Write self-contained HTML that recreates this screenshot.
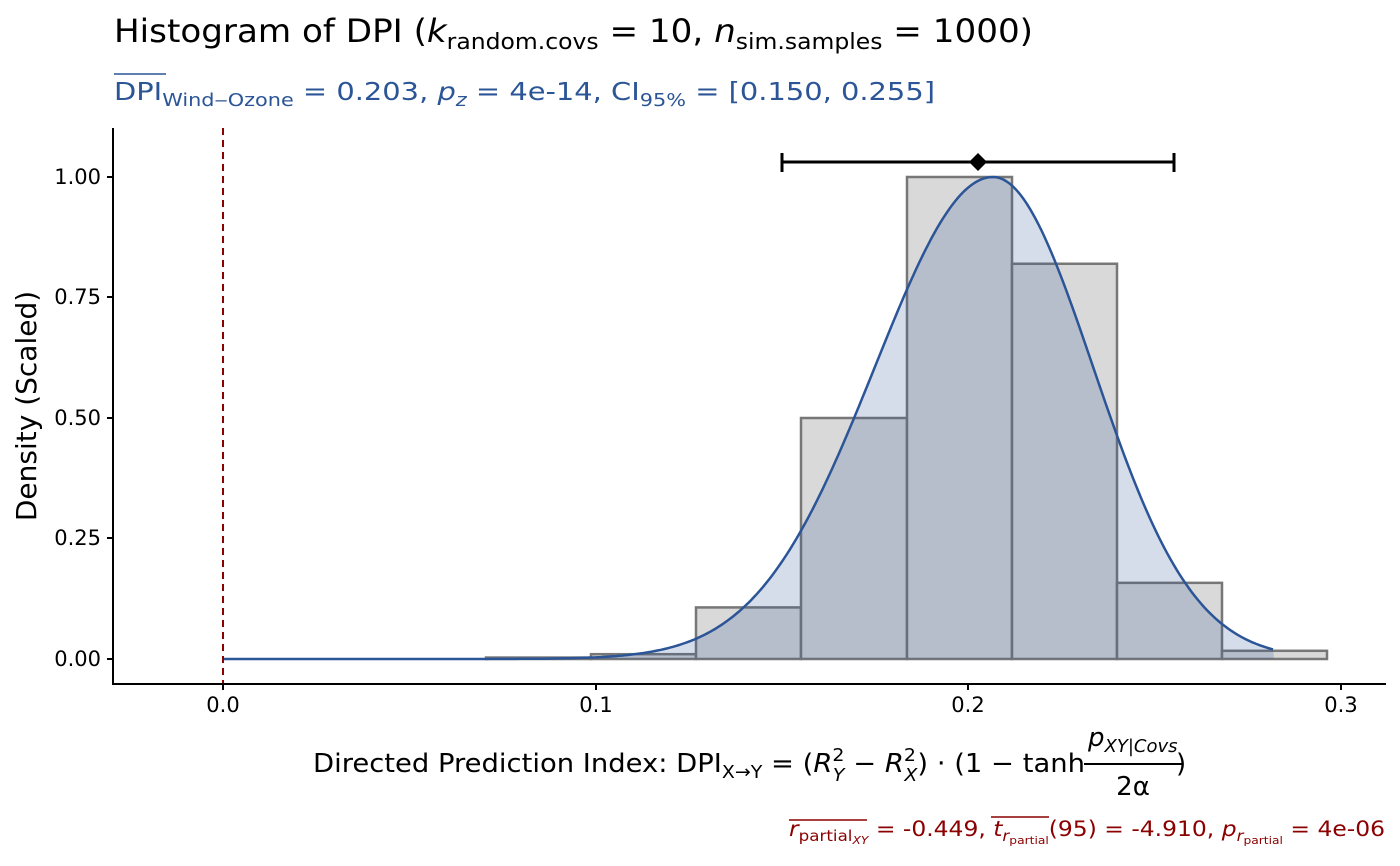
<!DOCTYPE html>
<html><head><meta charset="utf-8"><style>
body{margin:0;background:#fff;}
svg{display:block;font-family:"DejaVu Sans","Liberation Sans",sans-serif;}
</style></head><body>
<svg id="s" width="1400" height="866" xmlns="http://www.w3.org/2000/svg">
<rect width="1400" height="866" fill="#fff"/>
<text x="114" y="42" font-size="32" fill="#000" textLength="919" lengthAdjust="spacingAndGlyphs">Histogram of DPI (<tspan font-style="italic">k</tspan><tspan font-size="22" dy="7">random.covs</tspan><tspan dy="-7"> = 10, </tspan><tspan font-style="italic">n</tspan><tspan font-size="22" dy="7">sim.samples</tspan><tspan dy="-7"> = 1000)</tspan></text>
<line x1="114" y1="74" x2="166" y2="74" stroke="#2c5597" stroke-width="1.5"/>
<text x="114" y="100" font-size="25" fill="#2c5597" textLength="821" lengthAdjust="spacingAndGlyphs">DPI<tspan font-size="18" dy="6">Wind‒Ozone</tspan><tspan dy="-6"> = 0.203, </tspan><tspan font-style="italic">p</tspan><tspan font-size="18" dy="6" font-style="italic">z</tspan><tspan dy="-6"> = 4e-14, CI</tspan><tspan font-size="18" dy="6">95%</tspan><tspan dy="-6"> = [0.150, 0.255]</tspan></text>
<g id="hist" fill="#d9d9d9" stroke="#777" stroke-width="2.5"></g>
<path id="dens" fill="rgba(44,85,151,0.2)" stroke="none"/>
<path id="dline" fill="none" stroke="#2c5597" stroke-width="2.5"/>
<line x1="223" y1="128" x2="223" y2="684" stroke="#8b0000" stroke-width="2" stroke-dasharray="7,5"/>
<g stroke="#000" stroke-width="3"><line x1="782" y1="162" x2="1174" y2="162"/><line x1="782" y1="153" x2="782" y2="172"/><line x1="1174" y1="153" x2="1174" y2="172"/></g>
<polygon points="978,153 987,162 978,171 969,162" fill="#000"/>
<g stroke="#000" stroke-width="2"><line x1="113" y1="128" x2="113" y2="685"/><line x1="112" y1="684" x2="1386" y2="684"/>
<line x1="107" y1="659" x2="113" y2="659"/><line x1="107" y1="538" x2="113" y2="538"/><line x1="107" y1="418" x2="113" y2="418"/><line x1="107" y1="297" x2="113" y2="297"/><line x1="107" y1="177" x2="113" y2="177"/>
<line x1="223" y1="684" x2="223" y2="690"/><line x1="596" y1="684" x2="596" y2="690"/><line x1="968" y1="684" x2="968" y2="690"/><line x1="1341" y1="684" x2="1341" y2="690"/></g>
<g font-size="21" fill="#000" text-anchor="end"><text x="101" y="666">0.00</text><text x="101" y="545">0.25</text><text x="101" y="425">0.50</text><text x="101" y="304">0.75</text><text x="101" y="184">1.00</text></g>
<g font-size="21" fill="#000" text-anchor="middle"><text x="223" y="712">0.0</text><text x="596" y="712">0.1</text><text x="968" y="712">0.2</text><text x="1341" y="712">0.3</text></g>
<text transform="translate(36,406) rotate(-90)" font-size="28" text-anchor="middle" fill="#000">Density (Scaled)</text>
<text x="313" y="772" font-size="26" fill="#000" textLength="772" lengthAdjust="spacingAndGlyphs">Directed Prediction Index: DPI<tspan font-size="18" dy="6">X→Y</tspan><tspan dy="-6"> = (</tspan><tspan font-style="italic">R</tspan><tspan font-size="18" dy="-11">2</tspan><tspan font-size="18" dx="-11" dy="20" font-style="italic">Y</tspan><tspan dy="-9"> − </tspan><tspan font-style="italic">R</tspan><tspan font-size="18" dy="-11">2</tspan><tspan font-size="18" dx="-11" dy="20" font-style="italic">X</tspan><tspan dy="-9">) · (1 − tanh</tspan></text>
<line x1="1084" y1="764" x2="1182" y2="764" stroke="#000" stroke-width="2"/>
<text x="1088" y="746" font-size="26" font-style="italic">p<tspan font-size="18" dy="6">XY|Covs</tspan></text>
<text x="1133" y="795" font-size="26" text-anchor="middle">2α</text>
<text x="1176" y="772" font-size="26">)</text>
<line x1="789" y1="820" x2="867" y2="820" stroke="#8b0000" stroke-width="1.5"/>
<line x1="991" y1="817" x2="1049" y2="817" stroke="#8b0000" stroke-width="1.5"/>
<text x="789" y="836" font-size="21" fill="#8b0000" textLength="596" lengthAdjust="spacingAndGlyphs"><tspan font-style="italic">r</tspan><tspan font-size="15" dy="5">partial</tspan><tspan font-size="11" dy="3" font-style="italic">XY</tspan><tspan dy="-8"> = -0.449, </tspan><tspan font-style="italic">t</tspan><tspan font-size="15" dy="5" font-style="italic">r</tspan><tspan font-size="11" dy="3">partial</tspan><tspan dy="-8">(95) = -4.910, </tspan><tspan font-style="italic">p</tspan><tspan font-size="15" dy="5" font-style="italic">r</tspan><tspan font-size="11" dy="3">partial</tspan><tspan dy="-8"> = 4e-06</tspan></text>
</svg>
<script>
var h=document.getElementById('hist'),ns="http://www.w3.org/2000/svg";
var edges=[172,277,382,486,591,696,801,907,1012,1117,1222,1327];
var vals=[0,0,0,0.003,0.01,0.107,0.5,1.0,0.82,0.158,0.017];
for(var i=0;i<vals.length;i++){var r=document.createElementNS(ns,'rect');var y=659-vals[i]*482;
r.setAttribute('x',edges[i]);r.setAttribute('y',y);r.setAttribute('width',edges[i+1]-edges[i]);r.setAttribute('height',659-y);h.appendChild(r);}
var pts=[];for(var x=223;x<=1274;x+=3){var s=x<993?118:100;var v=Math.exp(-0.5*Math.pow((x-993)/s,2));pts.push(x+","+(659-v*482).toFixed(1));}
document.getElementById('dline').setAttribute('d',"M"+pts.join(" L"));
document.getElementById('dens').setAttribute('d',"M223,659 L"+pts.join(" L")+" L1274,659 Z");
</script>
</body></html>
